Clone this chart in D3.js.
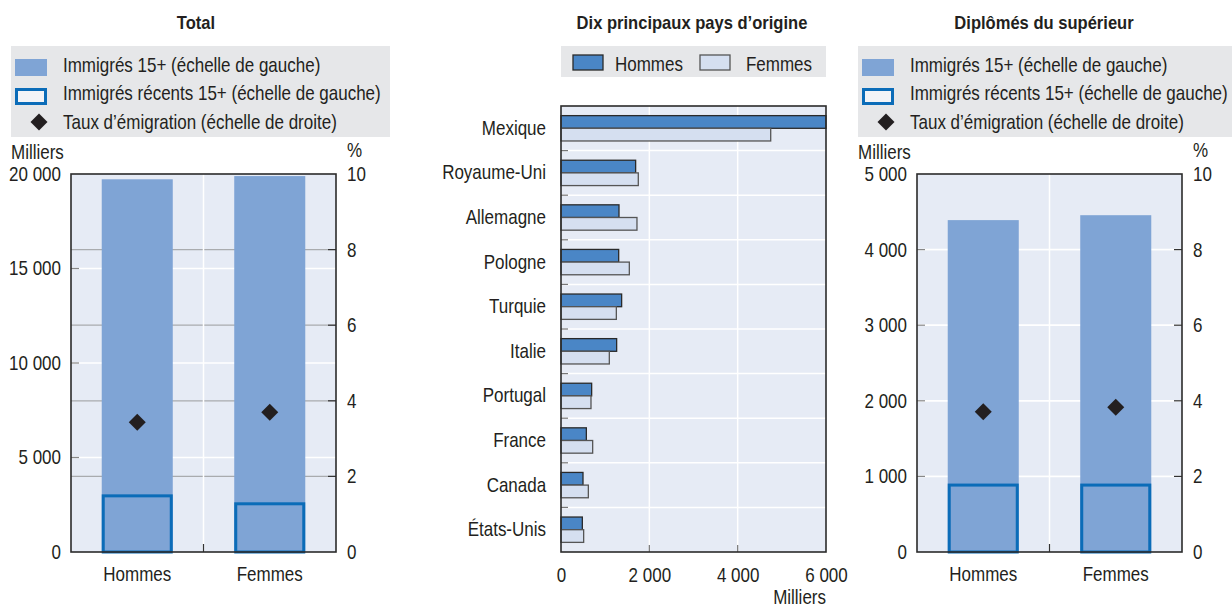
<!DOCTYPE html>
<html><head><meta charset="utf-8">
<script src="https://cdn.jsdelivr.net/npm/d3@7"></script>
<style>
body{margin:0;background:#fff;}
svg text{font-family:"Liberation Sans",Arial,sans-serif;fill:#231f20;}
</style></head><body>
<svg id="c" width="1232" height="609"></svg>
<script>
// ---------- DATA ----------
const sexes = ["Hommes", "Femmes"];
const totalImmigrants = [19720, 19890];      // milliers
const totalRecent = [3050, 2630];            // milliers
const totalEmigRate = [3.43, 3.70];          // %
const tertiaryImmigrants = [4390, 4455];     // milliers
const tertiaryRecent = [905, 905];           // milliers
const tertiaryEmigRate = [3.71, 3.83];       // %
const countries = ["Mexique","Royaume-Uni","Allemagne","Pologne","Turquie","Italie","Portugal","France","Canada","États-Unis"];
const menByCountry   = [6000, 1690, 1313, 1306, 1373, 1260, 694, 574, 498, 483];
const womenByCountry = [4748, 1750, 1720, 1547, 1253, 1094, 679, 717, 619, 513];
const leftTicksTotal = [0, 5000, 10000, 15000, 20000];
const leftTicksTertiary = [0, 1000, 2000, 3000, 4000, 5000];
const rightTicks = [0, 2, 4, 6, 8, 10];
const midTicks = [0, 2000, 4000, 6000];
const legendLabels = ["Immigrés 15+ (échelle de gauche)", "Immigrés récents 15+ (échelle de gauche)", "Taux d’émigration (échelle de droite)"];

// ---------- STYLE ----------
const C = {
  plotBg: "#e6ebf5", frame: "#2b2b2b", bar: "#7fa4d5", recent: "#0b6cb8",
  diamond: "#231f20", legendBg: "#e6e7e9", grayGrid: "#a9abae",
  men: "#4a86c6", women: "#d5dff0", menStroke: "#2a2a2a", womenStroke: "#555"
};
const fmt = v => d3.format(",")(v).replace(/,/g, " ");
const svg = d3.select("#c");
const FS = 20;          // regular text size
const TFS = 18;         // title size
const NARROW = 0.85;    // horizontal condensing of regular text
const NARROW_B = 0.92;  // horizontal condensing of bold titles

function sidePanel(o) {
  const g = svg.append("g");
  g.append("text").attr("x", o.titleX).attr("y", 29).attr("text-anchor", "middle")
    .style("font-weight", "bold").style("font-size", TFS + "px").text(o.title);
  const lx = o.legX, ly = 46;
  g.append("rect").attr("x", lx).attr("y", ly).attr("width", 379).attr("height", 91).attr("fill", C.legendBg);
  g.append("rect").attr("x", lx + 4).attr("y", ly + 13).attr("width", 32).attr("height", 17).attr("fill", C.bar);
  g.append("rect").attr("x", lx + 5.5).attr("y", ly + 43.5).attr("width", 29).attr("height", 14)
    .attr("fill", "#f3f4f7").attr("stroke", C.recent).attr("stroke-width", 3);
  g.append("path").attr("d", d3.symbol(d3.symbolSquare, 144)())
    .attr("transform", `translate(${lx + 28},${ly + 76}) rotate(45)`).attr("fill", C.diamond);
  legendLabels.forEach((t, i) => {
    g.append("text").attr("x", lx + 52).attr("y", ly + 26 + i * 28.5).style("font-size", FS + "px").text(t);
  });

  const x0 = o.x0, x1 = o.x1, y0 = 174, y1 = 552;
  const x = d3.scaleBand().domain(sexes).range([x0, x1]).paddingInner(0.464).paddingOuter(0.232);
  const yL = d3.scaleLinear().domain([0, o.leftMax]).range([y1, y0]);
  const yR = d3.scaleLinear().domain([0, 10]).range([y1, y0]);

  g.append("rect").attr("x", x0).attr("y", y0).attr("width", x1 - x0).attr("height", y1 - y0).attr("fill", C.plotBg);
  g.selectAll(".gr").data(rightTicks.slice(1, -1)).join("line")
    .attr("x1", x0).attr("x2", x1).attr("y1", d => yR(d)).attr("y2", d => yR(d))
    .attr("stroke", o.rightGridWhite ? "#fff" : C.grayGrid).attr("stroke-width", 1.2);
  g.selectAll(".gl").data(o.leftTicks.slice(1, -1)).join("line")
    .attr("x1", x0).attr("x2", x1).attr("y1", d => yL(d)).attr("y2", d => yL(d))
    .attr("stroke", "#fff").attr("stroke-width", 1.5);
  const xm = (x0 + x1) / 2;
  g.append("line").attr("x1", xm).attr("x2", xm).attr("y1", y0).attr("y2", y1).attr("stroke", "#fff").attr("stroke-width", 1.5);

  g.selectAll(".b").data(sexes).join("rect")
    .attr("x", d => x(d)).attr("width", x.bandwidth())
    .attr("y", (d, i) => yL(o.imm[i])).attr("height", (d, i) => y1 - yL(o.imm[i])).attr("fill", C.bar);
  g.selectAll(".r").data(sexes).join("rect")
    .attr("x", d => x(d) + 1.5).attr("width", x.bandwidth() - 3)
    .attr("y", (d, i) => yL(o.rec[i]) + 1.5).attr("height", (d, i) => y1 - yL(o.rec[i]) - 1.5)
    .attr("fill", "none").attr("stroke", C.recent).attr("stroke-width", 3);
  g.selectAll(".d").data(sexes).join("path")
    .attr("d", d3.symbol(d3.symbolSquare, 144)())
    .attr("transform", (d, i) => `translate(${x(d) + x.bandwidth() / 2},${yR(o.rate[i])}) rotate(45)`)
    .attr("fill", C.diamond);

  g.selectAll(".tl").data(o.leftTicks.slice(1, -1)).join("line")
    .attr("x1", x0).attr("x2", x0 + 8).attr("y1", d => yL(d)).attr("y2", d => yL(d))
    .attr("stroke", "#888").attr("stroke-width", 1.2);
  g.selectAll(".tr").data(rightTicks.slice(1, -1)).join("line")
    .attr("x1", x1 - 8).attr("x2", x1).attr("y1", d => yR(d)).attr("y2", d => yR(d))
    .attr("stroke", "#333").attr("stroke-width", 1.2);
  g.append("line").attr("x1", xm).attr("x2", xm).attr("y1", y1 - 8).attr("y2", y1).attr("stroke", "#333").attr("stroke-width", 1.2);
  g.append("rect").attr("x", x0).attr("y", y0).attr("width", x1 - x0).attr("height", y1 - y0)
    .attr("fill", "none").attr("stroke", C.frame).attr("stroke-width", 1.6);

  const la = d3.axisLeft(yL).tickValues(o.leftTicks).tickFormat(fmt).tickSize(0).tickPadding(10);
  const lg = g.append("g").attr("transform", `translate(${x0},0)`).call(la);
  const ra = d3.axisRight(yR).tickValues(rightTicks).tickSize(0).tickPadding(11);
  const rg = g.append("g").attr("transform", `translate(${x1},0)`).call(ra);
  const ba = d3.axisBottom(x).tickSize(0).tickPadding(15);
  const bg = g.append("g").attr("transform", `translate(0,${y1})`).call(ba);
  [lg, rg, bg].forEach(a => { a.select(".domain").remove(); a.attr("font-family", null).attr("font-size", null);
    a.selectAll("text").style("font-size", FS + "px").attr("fill", "#231f20"); });

  g.append("text").attr("x", o.legX).attr("y", 159.5).style("font-size", FS + "px").text("Milliers");
  g.append("text").attr("x", x1 + 11).attr("y", 157).style("font-size", FS + "px").text("%");
}

sidePanel({ title: "Total", titleX: 196, legX: 11, x0: 71, x1: 336, leftMax: 20000,
  leftTicks: leftTicksTotal, imm: totalImmigrants, rec: totalRecent, rate: totalEmigRate, rightGridWhite: false });
sidePanel({ title: "Diplômés du supérieur", titleX: 1044, legX: 858, x0: 917, x1: 1182, leftMax: 5000,
  leftTicks: leftTicksTertiary, imm: tertiaryImmigrants, rec: tertiaryRecent, rate: tertiaryEmigRate, rightGridWhite: true });

// ---------- MIDDLE PANEL ----------
(function () {
  const g = svg.append("g");
  const x0 = 561, x1 = 826, y0 = 106, y1 = 552;
  g.append("text").attr("x", 692).attr("y", 29).attr("text-anchor", "middle")
    .style("font-weight", "bold").style("font-size", TFS + "px").text("Dix principaux pays d’origine");
  g.append("rect").attr("x", 561).attr("y", 46).attr("width", 265).attr("height", 31).attr("fill", C.legendBg);
  const legItems = [{ k: "Hommes", f: C.men, s: C.menStroke, x: 573, tx: 615 }, { k: "Femmes", f: C.women, s: C.womenStroke, x: 700, tx: 746 }];
  legItems.forEach(d => {
    g.append("rect").attr("x", d.x).attr("y", 55).attr("width", 30).attr("height", 15).attr("fill", d.f).attr("stroke", d.s).attr("stroke-width", 1.3);
    g.append("text").attr("x", d.tx).attr("y", 71).style("font-size", FS + "px").text(d.k);
  });

  const x = d3.scaleLinear().domain([0, 6000]).range([x0, x1]);
  const y = d3.scaleBand().domain(countries).range([y0, y1]).padding(0);
  const yi = d3.scaleBand().domain(sexes).range([0, y.bandwidth()]).paddingInner(0).paddingOuter(0.76);

  g.append("rect").attr("x", x0).attr("y", y0).attr("width", x1 - x0).attr("height", y1 - y0).attr("fill", C.plotBg);
  g.selectAll(".vg").data(midTicks.slice(1, -1)).join("line")
    .attr("x1", d => x(d)).attr("x2", d => x(d)).attr("y1", y0).attr("y2", y1).attr("stroke", "#fff").attr("stroke-width", 1.5);
  g.selectAll(".hg").data(countries.slice(1)).join("line")
    .attr("x1", x0).attr("x2", x1).attr("y1", d => y(d)).attr("y2", d => y(d)).attr("stroke", "#fff").attr("stroke-width", 1.5);

  const series = [{ k: "Hommes", v: menByCountry, f: C.men, s: C.menStroke }, { k: "Femmes", v: womenByCountry, f: C.women, s: C.womenStroke }];
  series.forEach(s => {
    g.selectAll(".bar-" + s.k).data(countries).join("rect")
      .attr("x", x0).attr("y", d => y(d) + yi(s.k))
      .attr("width", (d, i) => x(s.v[i]) - x0).attr("height", yi.bandwidth())
      .attr("fill", s.f).attr("stroke", s.s).attr("stroke-width", 1.3);
  });

  g.selectAll(".ct").data(countries.slice(1)).join("line")
    .attr("x1", x0).attr("x2", x0 + 7).attr("y1", d => y(d)).attr("y2", d => y(d)).attr("stroke", "#777").attr("stroke-width", 1.2);
  g.selectAll(".bt").data(midTicks.slice(1, -1)).join("line")
    .attr("x1", d => x(d)).attr("x2", d => x(d)).attr("y1", y1 - 7).attr("y2", y1).attr("stroke", "#777").attr("stroke-width", 1.2);
  g.append("rect").attr("x", x0).attr("y", y0).attr("width", x1 - x0).attr("height", y1 - y0)
    .attr("fill", "none").attr("stroke", C.frame).attr("stroke-width", 1.6);

  const la = d3.axisLeft(y).tickSize(0).tickPadding(15);
  const lg = g.append("g").attr("transform", `translate(${x0},0)`).call(la);
  const ba = d3.axisBottom(x).tickValues(midTicks).tickFormat(fmt).tickSize(0).tickPadding(16);
  const bg = g.append("g").attr("transform", `translate(0,${y1})`).call(ba);
  [lg, bg].forEach(a => { a.select(".domain").remove(); a.attr("font-family", null).attr("font-size", null);
    a.selectAll("text").style("font-size", FS + "px").attr("fill", "#231f20"); });
  g.append("text").attr("x", x1).attr("y", 604).attr("text-anchor", "end").style("font-size", FS + "px").text("Milliers");
})();

// ---------- condense all text horizontally around its anchor ----------
svg.selectAll("text").each(function () {
  const cs = getComputedStyle(this);
  const s = (cs.fontWeight === "700" || cs.fontWeight === "bold") ? NARROW_B : NARROW;
  const b = this.getBBox();
  const a = cs.textAnchor;
  const ax = a === "end" ? b.x + b.width : a === "middle" ? b.x + b.width / 2 : b.x;
  this.setAttribute("transform", `translate(${ax * (1 - s)},0) scale(${s},1)`);
});
</script>
</body></html>
